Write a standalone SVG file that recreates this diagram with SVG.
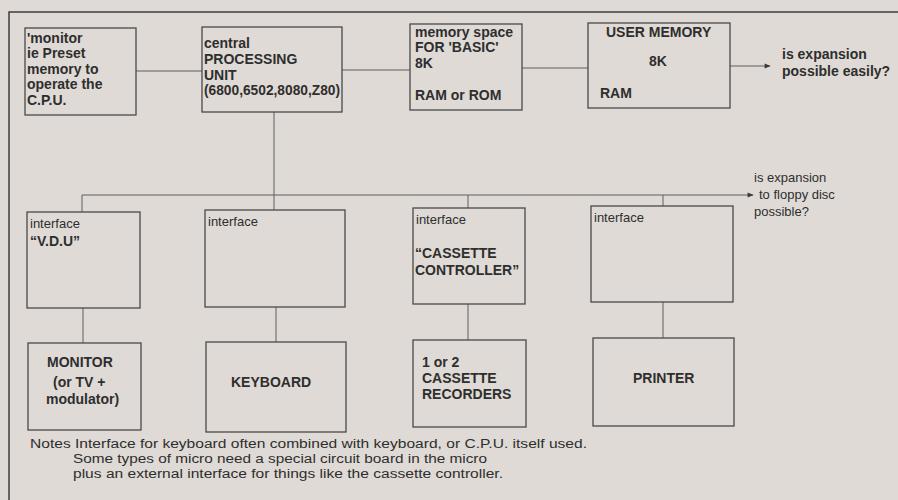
<svg xmlns="http://www.w3.org/2000/svg" width="898" height="500" viewBox="0 0 898 500">
<defs>
<marker id="arr" viewBox="0 0 10 10" refX="9" refY="5" markerWidth="9" markerHeight="6" orient="auto" markerUnits="userSpaceOnUse">
<path d="M0,1 L10,5 L0,9 z" fill="#3a3a3a"/>
</marker>
<style>
.bg{fill:#dfdad5}
.frame{fill:none;stroke:#3e3e3e;stroke-width:1.5}
.box{fill:none;stroke:#4a4a4a;stroke-width:1.3}
.con{fill:none;stroke:#5e5e5e;stroke-width:1}
text{font-family:"Liberation Sans",Arial,sans-serif;fill:#2e2e2e}
.b{font-size:14px;font-weight:bold}
.r{font-size:13px}
.n{font-size:12.5px}
</style>
</defs>
<rect class="bg" x="0" y="0" width="898" height="500"/>
<path class="frame" d="M898,12 L9,12 L9,500"/>

<g id="connectors">
<line class="con" x1="136" y1="71" x2="202" y2="71"/>
<line class="con" x1="342" y1="70" x2="410" y2="70"/>
<line class="con" x1="522" y1="68" x2="588" y2="68"/>
<line class="con" x1="730" y1="66" x2="770" y2="66" marker-end="url(#arr)"/>
<line class="con" x1="274" y1="112" x2="274" y2="210"/>
<line class="con" x1="82" y1="195" x2="753" y2="195" marker-end="url(#arr)"/>
<line class="con" x1="82" y1="195" x2="82" y2="212"/>
<line class="con" x1="468" y1="195" x2="468" y2="208"/>
<line class="con" x1="663" y1="195" x2="663" y2="206"/>
<line class="con" x1="83" y1="308" x2="83" y2="343"/>
<line class="con" x1="276" y1="307" x2="276" y2="342"/>
<line class="con" x1="468" y1="304" x2="468" y2="340"/>
<line class="con" x1="663" y1="302" x2="663" y2="338"/>
</g>

<g id="monitor-rom">
<rect class="box" x="25" y="28" width="111" height="87"/>
<text class="b" x="27" y="43">'monitor</text>
<text class="b" x="27" y="58">ie Preset</text>
<text class="b" x="27" y="74">memory  to</text>
<text class="b" x="27" y="89">operate the</text>
<text class="b" x="27" y="105">C.P.U.</text>
</g>

<g id="cpu">
<rect class="box" x="202" y="27" width="140" height="85"/>
<text class="b" x="204" y="48">central</text>
<text class="b" x="204" y="64">PROCESSING</text>
<text class="b" x="204" y="80">UNIT</text>
<text class="b" x="204" y="95" textLength="136" lengthAdjust="spacingAndGlyphs">(6800,6502,8080,Z80)</text>
</g>

<g id="basic-memory">
<rect class="box" x="410" y="24" width="112" height="86"/>
<text class="b" x="415" y="37">memory space</text>
<text class="b" x="415" y="52">FOR 'BASIC'</text>
<text class="b" x="415" y="68">8K</text>
<text class="b" x="415" y="100">RAM or ROM</text>
</g>

<g id="user-memory">
<rect class="box" x="588" y="23" width="142" height="85"/>
<text class="b" x="606" y="37">USER MEMORY</text>
<text class="b" x="649" y="66">8K</text>
<text class="b" x="600" y="98">RAM</text>
</g>

<g id="expansion-note">
<text class="b" x="782" y="59">is expansion</text>
<text class="b" x="782" y="76">possible easily?</text>
</g>

<g id="floppy-note">
<text class="r" x="754" y="182">is expansion</text>
<text class="r" x="759" y="199">to floppy disc</text>
<text class="r" x="754" y="216">possible?</text>
</g>

<g id="if-vdu">
<rect class="box" x="27" y="212" width="113" height="96"/>
<text class="r" x="30" y="228">interface</text>
<text class="b" x="30" y="246">“V.D.U”</text>
</g>

<g id="if-keyboard">
<rect class="box" x="205" y="210" width="140" height="97"/>
<text class="r" x="208" y="226">interface</text>
</g>

<g id="if-cassette">
<rect class="box" x="413" y="208" width="112" height="96"/>
<text class="r" x="416" y="224">interface</text>
<text class="b" x="415" y="258">“CASSETTE</text>
<text class="b" x="415" y="275">CONTROLLER”</text>
</g>

<g id="if-printer">
<rect class="box" x="591" y="206" width="142" height="96"/>
<text class="r" x="594" y="222">interface</text>
</g>

<g id="monitor">
<rect class="box" x="28" y="343" width="113" height="87"/>
<text class="b" x="47" y="367">MONITOR</text>
<text class="b" x="53" y="387">(or TV +</text>
<text class="b" x="46" y="404">modulator)</text>
</g>

<g id="keyboard">
<rect class="box" x="206" y="342" width="140" height="90"/>
<text class="b" x="231" y="387">KEYBOARD</text>
</g>

<g id="cassette-recorders">
<rect class="box" x="413" y="340" width="113" height="87"/>
<text class="b" x="422" y="367">1 or 2</text>
<text class="b" x="422" y="383">CASSETTE</text>
<text class="b" x="422" y="399">RECORDERS</text>
</g>

<g id="printer">
<rect class="box" x="593" y="338" width="141" height="88"/>
<text class="b" x="633" y="383">PRINTER</text>
</g>

<g id="notes">
<text class="n" x="30" y="448" textLength="557" lengthAdjust="spacingAndGlyphs">Notes Interface for keyboard often combined with keyboard, or C.P.U. itself used.</text>
<text class="n" x="73" y="463" textLength="414" lengthAdjust="spacingAndGlyphs">Some types of micro need a special circuit board in the micro</text>
<text class="n" x="73" y="478" textLength="430" lengthAdjust="spacingAndGlyphs">plus an external interface for things like the cassette controller.</text>
</g>
</svg>
